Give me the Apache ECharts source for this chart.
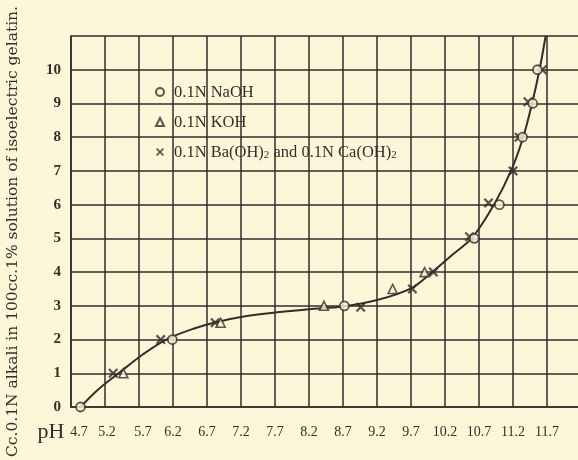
<!DOCTYPE html>
<html>
<head>
<meta charset="utf-8">
<script src="https://cdn.jsdelivr.net/npm/echarts@6/dist/echarts.min.js"></script>
<style>
  html, body { margin: 0; padding: 0; background: #fbf8da; }
  #chart { width: 578px; height: 460px; }
</style>
</head>
<body>
<div id="chart"></div>
<script>
// Titration of isoelectric gelatin with different alkalies: cc. of 0.1N alkali vs pH

// pH tick labels along the bottom axis
const xTickLabels = ['4.7', '5.2', '5.7', '6.2', '6.7', '7.2', '7.7', '8.2', '8.7', '9.2', '9.7', '10.2', '10.7', '11.2', '11.7'];
// cc. tick labels on the left axis
const yTickLabels = ['0', '1', '2', '3', '4', '5', '6', '7', '8', '9', '10'];

// 0.1N NaOH observations
const naohPH = [4.84, 6.19, 8.72, 10.63, 11.0, 11.34, 11.49, 11.56];
const naohCc = [0, 2.0, 3.0, 5.0, 6.0, 8.0, 9.0, 10.0];

// 0.1N KOH observations
const kohPH = [5.47, 6.9, 8.42, 9.43, 9.9];
const kohCc = [1.0, 2.5, 3.0, 3.5, 4.0];

// 0.1N Ba(OH)2 and 0.1N Ca(OH)2 observations
const baPH = [5.32, 6.02, 6.82, 8.96, 9.72, 10.03, 10.56, 10.84, 11.2, 11.29, 11.42, 11.63];
const baCc = [1.0, 2.0, 2.5, 2.96, 3.5, 4.0, 5.05, 6.05, 7.0, 8.0, 9.05, 10.0];

// Smooth titration curve drawn through the observations
const curvePH = [4.84, 5.1, 5.4, 5.75, 6.1, 6.5, 6.85, 7.2, 7.7, 8.2, 8.7, 9.2, 9.7, 10.0, 10.3, 10.6, 10.92, 11.17, 11.35, 11.48, 11.59, 11.68];
const curveCc = [0, 0.52, 1.0, 1.55, 2.0, 2.32, 2.52, 2.67, 2.8, 2.9, 2.98, 3.17, 3.52, 3.98, 4.5, 5.02, 6.0, 7.0, 8.0, 9.0, 10.0, 11.0];

const ink = '#342d29';
const paper = '#fbf8da';
const font = '"Liberation Serif", "DejaVu Serif", serif';
const wideFont = '"DejaVu Serif", "Liberation Serif", serif';

const zip = (a, b) => a.map((v, i) => [v, b[i]]);

// first few pH labels sit slightly right of their grid lines
const labelShift = { '4.7': 16, '5.2': 4, '5.7': 8 };

const crossPath = 'path://M0,1.6L1.6,0L5,3.4L8.4,0L10,1.6L6.6,5L10,8.4L8.4,10L5,6.6L1.6,10L0,8.4L3.4,5Z';

const chart = echarts.init(document.getElementById('chart'), null, { renderer: 'canvas' });

const xRich = {};
Object.keys(labelShift).forEach((k, i) => {
  xRich['s' + i] = { fontFamily: font, fontSize: 14, color: ink, padding: [0, 0, 0, labelShift[k]] };
});

const legendText = { fontFamily: font, fontSize: 16.5, color: ink, lineHeight: 18, verticalAlign: 'bottom' };

chart.setOption({
  backgroundColor: paper,
  animation: false,
  grid: { left: 71, top: 36, right: -3, bottom: 53, containLabel: false, outerBoundsMode: 'none' },
  legend: {
    orient: 'vertical',
    left: 150,
    top: 79,
    selectedMode: false,
    itemWidth: 8,
    itemHeight: 8,
    itemGap: 13,
    data: ['NaOH', 'KOH', 'Ba'],
    formatter: function (name) {
      if (name === 'NaOH') return '{f|0.1N NaOH}';
      if (name === 'KOH') return '{f|0.1N KOH}';
      return '{f|0.1N Ba(OH)}{s|2}{t| and 0.1N Ca(OH)}{s|2}';
    },
    textStyle: {
      color: ink,
      fontFamily: font,
      fontSize: 16.5,
      rich: {
        f: Object.assign({}, legendText, { padding: [0, 0, 0, 5] }),
        t: legendText,
        s: { fontFamily: font, fontSize: 11, color: ink, lineHeight: 11, verticalAlign: 'bottom' }
      }
    }
  },
  xAxis: {
    type: 'value',
    min: 4.7,
    max: 12.2,
    interval: 0.5,
    name: 'pH',
    nameLocation: 'start',
    nameGap: 5,
    nameTextStyle: { fontFamily: font, fontSize: 22, color: ink, align: 'right', verticalAlign: 'top', padding: [14, 0, 0, 0] },
    axisLine: { show: true, lineStyle: { color: ink, width: 1.6 } },
    axisTick: { show: false },
    splitLine: { show: true, lineStyle: { color: ink, width: 1.5 } },
    axisLabel: {
      margin: 18,
      color: ink,
      fontFamily: font,
      fontSize: 14,
      rich: xRich,
      formatter: function (v) {
        const i = Math.round((v - 4.7) / 0.5);
        const s = xTickLabels[i];
        if (s === undefined) return '';
        const keys = Object.keys(labelShift);
        const k = keys.indexOf(s);
        return k >= 0 ? '{s' + k + '|' + s + '}' : s;
      }
    }
  },
  yAxis: {
    type: 'value',
    min: 0,
    max: 11,
    interval: 1,
    name: 'Cc.0.1N alkali in 100cc.1% solution of isoelectric gelatin.',
    nameLocation: 'middle',
    nameRotate: 90,
    nameGap: 50,
    nameTextStyle: { fontFamily: wideFont, fontSize: 15.5, color: ink, padding: [0, 20, 0, 0] },
    axisLine: { show: true, lineStyle: { color: ink, width: 1.6 } },
    axisTick: { show: false },
    splitLine: { show: true, lineStyle: { color: ink, width: 1.5 } },
    axisLabel: {
      margin: 10,
      color: ink,
      fontFamily: font,
      fontSize: 15,
      fontWeight: 'bold',
      formatter: function (v) {
        const s = yTickLabels[Math.round(v)];
        return s === undefined ? '' : s;
      }
    }
  },
  series: [
    {
      name: 'curve',
      type: 'line',
      data: zip(curvePH, curveCc),
      smooth: 0.35,
      showSymbol: false,
      silent: true,
      clip: true,
      lineStyle: { color: ink, width: 2 },
      z: 3
    },
    {
      name: 'NaOH',
      type: 'scatter',
      data: zip(naohPH, naohCc),
      symbol: 'circle',
      symbolSize: 9,
      itemStyle: { color: paper, borderColor: ink, borderWidth: 1.8 },
      z: 5
    },
    {
      name: 'KOH',
      type: 'scatter',
      data: zip(kohPH, kohCc),
      symbol: 'triangle',
      symbolSize: 9,
      itemStyle: { color: paper, borderColor: ink, borderWidth: 1.6 },
      z: 5
    },
    {
      name: 'Ba',
      type: 'scatter',
      data: zip(baPH, baCc),
      symbol: crossPath,
      symbolSize: 10,
      itemStyle: { color: ink },
      z: 4
    }
  ]
});
</script>
</body>
</html>
